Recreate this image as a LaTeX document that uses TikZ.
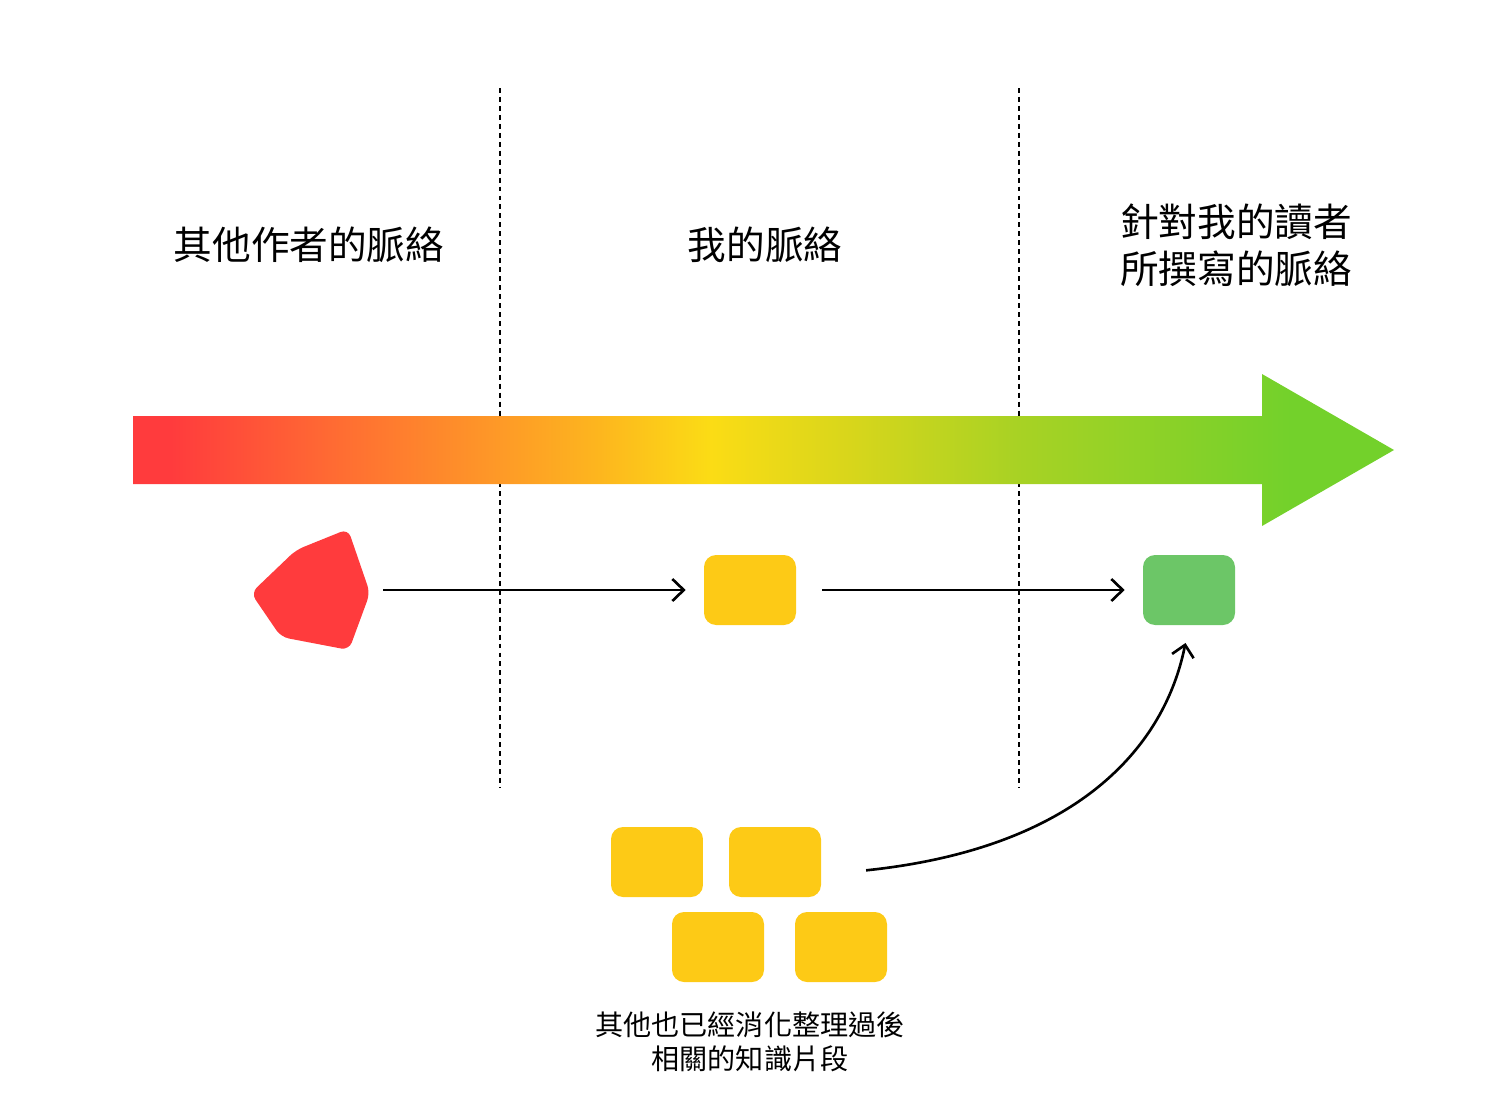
\documentclass[tikz,border=0pt]{standalone}
\usepackage{fontspec}
\newfontfamily\cjk{Noto Sans CJK TC}
\usetikzlibrary{arrows.meta}

\definecolor{piecered}{HTML}{FF3B3D}
\definecolor{pieceyellow}{HTML}{FDCA16}
\definecolor{piecegreen}{HTML}{6CC667}
\definecolor{tlred}{HTML}{FF3B3D}
\definecolor{tlorange}{HTML}{FF6A33}
\definecolor{tlamber}{HTML}{FE9A27}
\definecolor{tlgold}{HTML}{FDB61E}
\definecolor{tlyellow}{HTML}{FBDC15}
\definecolor{tlolive}{HTML}{D8D61B}
\definecolor{tllime}{HTML}{A8D224}
\definecolor{tlgreen}{HTML}{73D12B}

\pgfdeclarehorizontalshading{timeline}{100bp}{color(0bp)=(tlred); color(26.5bp)=(tlred); color(32.8bp)=(tlorange); color(39.6bp)=(tlamber); color(43.5bp)=(tlgold); color(47.9bp)=(tlyellow); color(53.4bp)=(tlolive); color(60.1bp)=(tllime); color(70.9bp)=(tlgreen); color(100bp)=(tlgreen)}

\tikzset{
  piece/.style={rectangle, rounded corners=0.24cm, inner sep=0pt, minimum width=1.84cm, minimum height=1.4cm},
  title/.style={font=\cjk\fontsize{22}{27}\selectfont, align=center},
  flow/.style={line width=1.5pt, -{Straight Barb[length=6.5pt,width=12.5pt,line width=1.5pt]}},
  divider/.style={line width=1.4pt, dash pattern=on 2.8pt off 2.3pt}
}

\begin{document}
\begin{tikzpicture}[x=0.02cm, y=-0.02cm]
    \useasboundingbox (0,0) rectangle (1501,1106);

    % Dividers between the three contexts
    \draw[divider] (500,88) -- (500,788);
    \draw[divider] (1019,88) -- (1019,788);

    % Headings
    \node[title] (others) at (309,245) {其他作者的脈絡};
    \node[title] (mine) at (765,245) {我的脈絡};
    \node[title] (readers) at (1236,245) {針對我的讀者\\所撰寫的脈絡};

    % Big gradient arrow
    \path[shading=timeline] (133,416) -- (1262,416) -- (1262,374) -- (1394,450)
        -- (1262,526) -- (1262,484) -- (133,484) -- cycle;

    % Pieces of knowledge
    \fill[piecered, rounded corners=0.16cm] (348,529) -- (296,550) -- (251,593)
        -- (281,637) -- (349,650) -- (370,593) -- cycle;
    \node[inner sep=0pt, minimum width=2.32cm, minimum height=2.36cm] (raw) at (310,590) {};
    \node[piece, fill=pieceyellow] (digested) at (750,590) {};
    \node[piece, fill=piecegreen] (rewritten) at (1189,590) {};

    % Other digested pieces
    \node[piece, fill=pieceyellow] (p1) at (657,862) {};
    \node[piece, fill=pieceyellow] (p2) at (775,862) {};
    \node[piece, fill=pieceyellow] (p3) at (718,947) {};
    \node[piece, fill=pieceyellow] (p4) at (841,947) {};
    \node[font=\cjk\fontsize{16}{19.3}\selectfont, align=center] (pile) at (750,1042)
        {其他也已經消化整理過後\\相關的知識片段};

    % Flow
    \draw[flow, shorten <=0.3cm, shorten >=0.36cm] (raw.east) -- (digested.west);
    \draw[flow, shorten <=0.52cm, shorten >=0.36cm] (digested.east) -- (rewritten.west);
    \draw[flow, shorten <=0.9cm, shorten >=0.36cm] ([yshift=-0.26cm]p2.east) .. controls (1080,848) and (1165,745) .. (rewritten.south);
\end{tikzpicture}
\end{document}
